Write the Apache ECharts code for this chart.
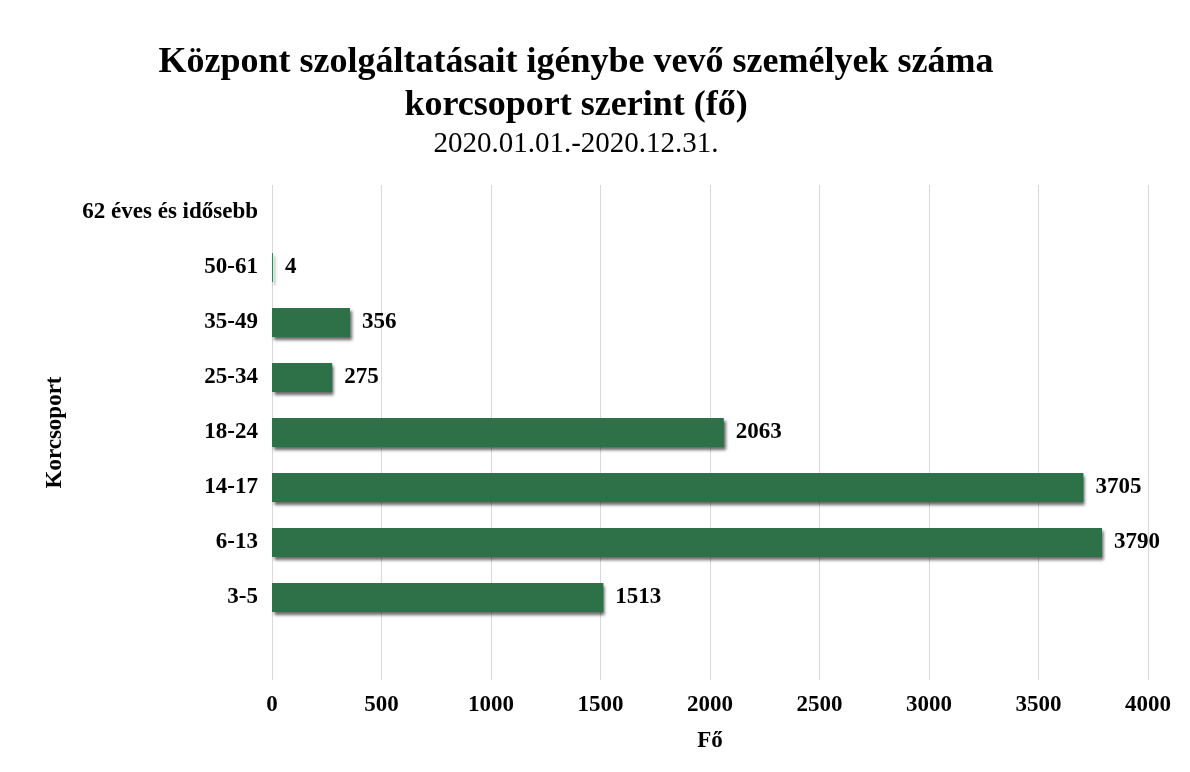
<!DOCTYPE html>
<html><head><meta charset="utf-8">
<script src="https://cdn.jsdelivr.net/npm/echarts@6/dist/echarts.min.js"></script>
<style>html,body{margin:0;padding:0;background:#fff}#c{width:1190px;height:772px}</style>
</head><body><div id="c"></div>
<script>
const categories = ["", "3-5", "6-13", "14-17", "18-24", "25-34", "35-49", "50-61", "62 éves és idősebb"];
const values = [null, 1513, 3790, 3705, 2063, 275, 356, 4, 0];
const xTicks = [0, 500, 1000, 1500, 2000, 2500, 3000, 3500, 4000];
const titleText = "Központ szolgáltatásait igénybe vevő személyek száma\nkorcsoport szerint (fő)";
const subText = "2020.01.01.-2020.12.31.";
const font = '"Liberation Serif", "Times New Roman", serif';

const chart = echarts.init(document.getElementById('c'), null, {renderer: 'canvas'});
chart.setOption({
  backgroundColor: '#fff',
  animation: false,
  title: {
    text: titleText, subtext: subText,
    left: 571, top: 36, textAlign: 'center', itemGap: 0,
    textStyle: {fontFamily: font, fontWeight: 'bold', fontSize: 36, color: '#000', lineHeight: 43},
    subtextStyle: {fontFamily: font, fontSize: 29, color: '#000', lineHeight: 34}
  },
  grid: {left: 272, right: 42, top: 185, bottom: 92, containLabel: false},
  xAxis: {
    type: 'value', min: xTicks[0], max: xTicks[xTicks.length - 1], interval: 500,
    name: 'Fő', nameLocation: 'middle', nameGap: 50,
    nameTextStyle: {fontFamily: font, fontWeight: 'bold', fontSize: 23, color: '#000'},
    axisLine: {show: false}, axisTick: {show: false},
    axisLabel: {fontFamily: font, fontWeight: 'bold', fontSize: 23, color: '#000', margin: 14,
      formatter: v => String(v)},
    splitLine: {lineStyle: {color: '#d9d9d9', width: 1}}
  },
  yAxis: {
    type: 'category', data: categories,
    name: 'Korcsoport', nameLocation: 'middle', nameGap: 205, nameRotate: 90,
    nameTextStyle: {fontFamily: font, fontWeight: 'bold', fontSize: 23, color: '#000'},
    axisLine: {show: false}, axisTick: {show: false},
    axisLabel: {fontFamily: font, fontWeight: 'bold', fontSize: 23, color: '#000', margin: 14},
    splitLine: {show: false}
  },
  series: [{
    type: 'bar', data: values, barWidth: 29,
    itemStyle: {color: '#2e7148', shadowColor: 'rgba(0,0,0,0.6)', shadowBlur: 3, shadowOffsetX: 2, shadowOffsetY: 3},
    label: {
      show: true, position: 'right', distance: 12,
      fontFamily: font, fontWeight: 'bold', fontSize: 23, color: '#000',
      formatter: p => (p.value ? String(p.value) : '')
    }
  }]
});
</script></body></html>
